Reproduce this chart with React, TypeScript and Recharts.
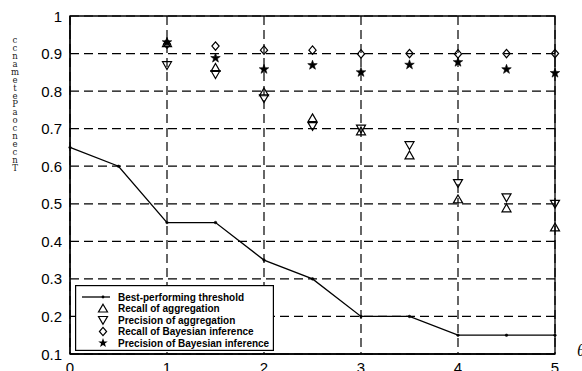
import React from 'react';
import { ComposedChart, Line, Scatter, XAxis, YAxis, CartesianGrid, ReferenceArea, Legend } from 'recharts';

const thresholdX = [0, 0.5, 1, 1.5, 2, 2.5, 3, 3.5, 4, 4.5, 5];
const thresholdY = [0.65, 0.6, 0.45, 0.45, 0.35, 0.3, 0.2, 0.2, 0.15, 0.15, 0.15];
const pointX = [1, 1.5, 2, 2.5, 3, 3.5, 4, 4.5, 5];
const recallAgg = [0.928, 0.862, 0.797, 0.728, 0.693, 0.629, 0.512, 0.488, 0.437];
const precisionAgg = [0.869, 0.845, 0.781, 0.707, 0.7, 0.656, 0.555, 0.517, 0.5];
const recallBayes = [0.925, 0.92, 0.909, 0.909, 0.899, 0.9, 0.899, 0.9, 0.9];
const precisionBayes = [0.93, 0.888, 0.858, 0.869, 0.85, 0.87, 0.877, 0.858, 0.848];
const xTicks = [0, 1, 2, 3, 4, 5];
const yTicks = [0.1, 0.2, 0.3, 0.4, 0.5, 0.6, 0.7, 0.8, 0.9, 1];
const legendLabels = [
  'Best-performing threshold',
  'Recall of aggregation',
  'Precision of aggregation',
  'Recall of Bayesian inference',
  'Precision of Bayesian inference',
];
const yLabelText = 'ccnametePaocnecnT';
const xLabel = 'θ';

const lineData = thresholdX.map((x, i) => ({ x, y: thresholdY[i] }));
const mk = (arr: number[]) => pointX.map((x, i) => ({ x, y: arr[i] }));

const FONT = '"Liberation Sans", Arial, Helvetica, sans-serif';

const triUpPath = (cx: number, cy: number) => `M${cx},${cy - 4.3} L${cx + 4.5},${cy + 3.5} L${cx - 4.5},${cy + 3.5} Z`;
const triDownPath = (cx: number, cy: number) => `M${cx},${cy + 4.3} L${cx + 4.5},${cy - 3.5} L${cx - 4.5},${cy - 3.5} Z`;
const diamondPath = (cx: number, cy: number) => `M${cx},${cy - 4.2} L${cx + 3.6},${cy} L${cx},${cy + 4.2} L${cx - 3.6},${cy} Z`;
const starPoints = (cx: number, cy: number) => {
  const pts: string[] = [];
  for (let k = 0; k < 10; k++) {
    const r = k % 2 === 0 ? 5 : 2;
    const a = -Math.PI / 2 + (k * Math.PI) / 5;
    pts.push(`${cx + r * Math.cos(a)},${cy + r * Math.sin(a)}`);
  }
  return pts.join(' ');
};

const TriUp = (p: any) => <path d={triUpPath(p.cx, p.cy)} fill="none" stroke="#000" strokeWidth={1.2} />;
const TriDown = (p: any) => <path d={triDownPath(p.cx, p.cy)} fill="none" stroke="#000" strokeWidth={1.2} />;
const Diamond = (p: any) => <path d={diamondPath(p.cx, p.cy)} fill="none" stroke="#000" strokeWidth={1.2} />;
const Star = (p: any) => <polygon points={starPoints(p.cx, p.cy)} fill="#000" stroke="#000" strokeWidth={0.6} />;

const YTick = (p: any) => (
  <text x={p.x} y={p.y} textAnchor="end" dominantBaseline="central" fontFamily={FONT} fontSize={15} fill="#000">
    {String(p.payload.value)}
  </text>
);
const XTick = (p: any) => (
  <text x={p.x} y={p.y + 19} textAnchor="middle" fontFamily={FONT} fontSize={15} fill="#000">
    {String(p.payload.value)}
  </text>
);

const LegendBox = () => {
  const rows = [12, 23.5, 35, 46.5, 58];
  const mx = 28;
  return (
    <svg width={199} height={66} style={{ display: 'block' }}>
      <rect x={0.6} y={0.6} width={197.8} height={64.8} fill="#fff" stroke="#000" strokeWidth={1.2} />
      <line x1={7} y1={rows[0]} x2={35} y2={rows[0]} stroke="#000" strokeWidth={1.3} />
      <circle cx={mx} cy={rows[0]} r={1.4} fill="#000" />
      <path d={triUpPath(mx, rows[1])} fill="none" stroke="#000" strokeWidth={1.2} />
      <path d={triDownPath(mx, rows[2])} fill="none" stroke="#000" strokeWidth={1.2} />
      <path d={diamondPath(mx, rows[3])} fill="none" stroke="#000" strokeWidth={1.2} />
      <polygon points={starPoints(mx, rows[4])} fill="#000" />
      {legendLabels.map((t, i) => (
        <text key={t} x={43} y={rows[i]} dominantBaseline="central" fontFamily={FONT} fontWeight="bold" fontSize={10} fill="#000">
          {t}
        </text>
      ))}
    </svg>
  );
};

const YLabel = () => (
  <text
    x={15}
    y={35}
    fontFamily='"DejaVu Serif", "Liberation Serif", serif'
    fontSize={8.5}
    fill="#222"
    style={{ writingMode: 'vertical-rl', textOrientation: 'upright', letterSpacing: '-2px' } as any}
  >
    {yLabelText}
  </text>
);

const XLabel = (props: any) => {
  const vb = props.viewBox;
  return (
    <text x={vb.x + vb.width + 22} y={vb.y + 2} fontFamily='"Liberation Serif", "DejaVu Serif", serif' fontStyle="italic" fontSize={17} fill="#000">
      {xLabel}
    </text>
  );
};

export default function App() {
  return (
    <div style={{ position: 'absolute', left: 0, top: 0, width: 582, height: 371, background: '#fff', overflow: 'hidden' }}>
      <ComposedChart width={582} height={371} data={lineData} margin={{ top: 16, right: 27, left: 0, bottom: 0 }}>
        <CartesianGrid stroke="#000" strokeWidth={1.2} strokeDasharray="9 5" />
        <XAxis
          dataKey="x"
          type="number"
          domain={[0, 5]}
          ticks={xTicks}
          height={17}
          tickLine={false}
          tickSize={0}
          tickMargin={0}
          axisLine={{ stroke: '#000', strokeWidth: 1.3 }}
          tick={<XTick />}
          interval={0}
          label={<XLabel />}
        />
        <YAxis
          type="number"
          domain={[0.1, 1]}
          ticks={yTicks}
          width={70}
          tickLine={false}
          tickSize={0}
          tickMargin={8}
          axisLine={{ stroke: '#000', strokeWidth: 1.3 }}
          tick={<YTick />}
          interval={0}
          label={<YLabel />}
        />
        <ReferenceArea x1={0} x2={5} y1={0.1} y2={1} fill="none" stroke="#000" strokeWidth={1.3} ifOverflow="visible" />
        <Line
          dataKey="y"
          stroke="#000"
          strokeWidth={1.3}
          isAnimationActive={false}
          dot={{ r: 1.3, fill: '#000', stroke: '#000', strokeWidth: 0.5 }}
          activeDot={false}
        />
        <Scatter data={mk(recallAgg)} dataKey="y" shape={TriUp} isAnimationActive={false} />
        <Scatter data={mk(precisionAgg)} dataKey="y" shape={TriDown} isAnimationActive={false} />
        <Scatter data={mk(recallBayes)} dataKey="y" shape={Diamond} isAnimationActive={false} />
        <Scatter data={mk(precisionBayes)} dataKey="y" shape={Star} isAnimationActive={false} />
        <Legend
          layout="horizontal"
          verticalAlign="middle"
          align="center"
          content={<LegendBox />}
          wrapperStyle={{ position: 'absolute', left: 75, top: 285, width: 199, height: 66 }}
        />
      </ComposedChart>
    </div>
  );
}
